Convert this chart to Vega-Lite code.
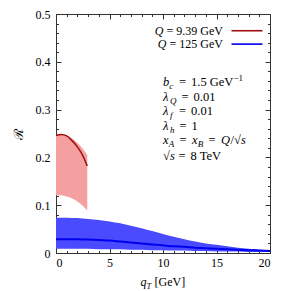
{
"$schema": "https://vega.github.io/schema/vega-lite/v6.json",
"width": 214, "height": 239,
"autosize": "none",
"padding": {"left": 56, "top": 14, "right": 21, "bottom": 38},
"background": "white",
"datasets": {
"blue": [
{"q":0,"lo":0.009,"hi":0.074,"r":0.029},{"q":1,"lo":0.009,"hi":0.074,"r":0.029},{"q":2,"lo":0.009,"hi":0.073,"r":0.029},{"q":3,"lo":0.009,"hi":0.071,"r":0.028},{"q":4,"lo":0.008,"hi":0.069,"r":0.027},{"q":5,"lo":0.008,"hi":0.066,"r":0.026},{"q":6,"lo":0.008,"hi":0.062,"r":0.024},{"q":7,"lo":0.007,"hi":0.057,"r":0.022},{"q":8,"lo":0.007,"hi":0.052,"r":0.020},{"q":9,"lo":0.006,"hi":0.046,"r":0.018},{"q":10,"lo":0.006,"hi":0.040,"r":0.016},{"q":11,"lo":0.005,"hi":0.034,"r":0.014},{"q":12,"lo":0.005,"hi":0.029,"r":0.013},{"q":13,"lo":0.004,"hi":0.024,"r":0.011},{"q":14,"lo":0.004,"hi":0.020,"r":0.010},{"q":15,"lo":0.003,"hi":0.017,"r":0.009},{"q":16,"lo":0.003,"hi":0.014,"r":0.008},{"q":17,"lo":0.003,"hi":0.011,"r":0.007},{"q":18,"lo":0.002,"hi":0.009,"r":0.006},{"q":19,"lo":0.002,"hi":0.007,"r":0.005},{"q":20,"lo":0.002,"hi":0.006,"r":0.004}
],
"red": [
{"q":0,"lo":0.121,"hi":0.247,"r":0.246},{"q":0.5,"lo":0.121,"hi":0.249,"r":0.248},{"q":1,"lo":0.118,"hi":0.246,"r":0.245},{"q":1.5,"lo":0.114,"hi":0.240,"r":0.235},{"q":2,"lo":0.108,"hi":0.230,"r":0.222},{"q":2.5,"lo":0.099,"hi":0.218,"r":0.204},{"q":2.92,"lo":0.089,"hi":0.205,"r":0.182}
]
},
"config": {
"view": {"stroke": "#333", "strokeWidth": 1},
"axis": {"grid": false, "domain": false, "labelFont": "Liberation Serif", "labelFontSize": 12, "labelColor": "#000", "tickColor": "#333", "tickWidth": 1},
"text": {"font": "Liberation Serif", "fontSize": 12.5, "color": "#000", "align": "left", "baseline": "alphabetic"}
},
"resolve": {"axis": {"x": "independent", "y": "independent"}},
"layer": [
{"data": {"name": "red"},
 "mark": {"type": "area", "color": "#f4a0a0", "interpolate": "monotone"},
 "encoding": {
  "x": {"field": "q", "type": "quantitative", "scale": {"domain": [0, 20], "nice": false, "zero": false},
        "axis": {"orient": "bottom", "values": [0,5,10,15,20], "ticks": false, "labelPadding": 4, "format": "~g", "title": null}},
  "y": {"field": "lo", "type": "quantitative", "scale": {"domain": [0, 0.5], "nice": false, "zero": false},
        "axis": {"orient": "left", "values": [0,0.1,0.2,0.3,0.4,0.5], "ticks": false, "labelPadding": 6, "format": "~g", "title": "ℛ", "titleFont": "DejaVu Serif", "titleFontSize": 13, "titleFontWeight": "normal", "titlePadding": 10, "titleColor": "#000"}},
  "y2": {"field": "hi"}
 }},
{"data": {"name": "blue"},
 "mark": {"type": "area", "color": "#4a4aff", "interpolate": "monotone"},
 "encoding": {
  "x": {"field": "q", "type": "quantitative", "scale": {"domain": [0, 20], "nice": false, "zero": false},
        "axis": {"orient": "bottom", "values": [0,5,10,15,20], "labels": false, "tickSize": -5, "title": null}},
  "y": {"field": "lo", "type": "quantitative", "scale": {"domain": [0, 0.5], "nice": false, "zero": false},
        "axis": {"orient": "left", "values": [0,0.1,0.2,0.3,0.4,0.5], "labels": false, "tickSize": -5, "title": null}},
  "y2": {"field": "hi"}
 }},
{"data": {"name": "red"},
 "mark": {"type": "line", "color": "#a01010", "strokeWidth": 1.6, "interpolate": "monotone"},
 "encoding": {
  "x": {"field": "q", "type": "quantitative", "scale": {"domain": [0, 20], "nice": false, "zero": false},
        "axis": {"orient": "bottom", "values": [0,1,2,3,4,5,6,7,8,9,10,11,12,13,14,15,16,17,18,19,20], "labels": false, "tickSize": -2.5, "title": null}},
  "y": {"field": "r", "type": "quantitative", "scale": {"domain": [0, 0.5], "nice": false, "zero": false},
        "axis": {"orient": "left", "values": [0,0.02,0.04,0.06,0.08,0.1,0.12,0.14,0.16,0.18,0.2,0.22,0.24,0.26,0.28,0.3,0.32,0.34,0.36,0.38,0.4,0.42,0.44,0.46,0.48,0.5], "labels": false, "tickSize": -2.5, "title": null}}
 }},
{"data": {"name": "blue"},
 "mark": {"type": "line", "color": "#0000ee", "strokeWidth": 2, "interpolate": "monotone"},
 "encoding": {
  "x": {"field": "q", "type": "quantitative", "scale": {"domain": [0, 20], "nice": false, "zero": false},
        "axis": {"orient": "top", "values": [0,5,10,15,20], "labels": false, "tickSize": -5, "title": null}},
  "y": {"field": "r", "type": "quantitative", "scale": {"domain": [0, 0.5], "nice": false, "zero": false},
        "axis": {"orient": "right", "values": [0,0.1,0.2,0.3,0.4,0.5], "labels": false, "tickSize": -5, "title": null}}
 }},
{"data": {"values": [{}]},
 "mark": {"type": "rule", "color": "#a01010", "strokeWidth": 1.6},
 "encoding": {
  "x": {"datum": 16.4, "type": "quantitative", "scale": {"domain": [0, 20], "nice": false, "zero": false},
        "axis": {"orient": "top", "values": [0,1,2,3,4,5,6,7,8,9,10,11,12,13,14,15,16,17,18,19,20], "labels": false, "tickSize": -2.5, "title": null}},
  "x2": {"datum": 19.3},
  "y": {"datum": 0.465, "type": "quantitative", "scale": {"domain": [0, 0.5], "nice": false, "zero": false},
        "axis": {"orient": "right", "values": [0,0.02,0.04,0.06,0.08,0.1,0.12,0.14,0.16,0.18,0.2,0.22,0.24,0.26,0.28,0.3,0.32,0.34,0.36,0.38,0.4,0.42,0.44,0.46,0.48,0.5], "labels": false, "tickSize": -2.5, "title": null}}
 }},
{"data": {"values": [{}]},
 "mark": {"type": "rule", "color": "#0000ee", "strokeWidth": 1.6},
 "encoding": {
  "x": {"datum": 16.4, "type": "quantitative", "scale": {"domain": [0, 20], "nice": false, "zero": false}, "axis": null},
  "x2": {"datum": 19.3},
  "y": {"datum": 0.437, "type": "quantitative", "scale": {"domain": [0, 0.5], "nice": false, "zero": false}, "axis": null}
 }},
{"data": {"values": [{}]}, "mark": {"type": "text", "align": "right", "fontSize": 12, "text": "= 9.39 GeV"},
 "encoding": {"x": {"datum": 15.6, "type": "quantitative", "scale": {"domain": [0, 20], "nice": false, "zero": false}, "axis": null}, "y": {"datum": 0.457, "type": "quantitative", "scale": {"domain": [0, 0.5], "nice": false, "zero": false}, "axis": null}}},
{"data": {"values": [{}]}, "mark": {"type": "text", "align": "right", "fontSize": 12, "fontStyle": "italic", "dx": -59.4, "text": "Q"},
 "encoding": {"x": {"datum": 15.6, "type": "quantitative", "scale": {"domain": [0, 20], "nice": false, "zero": false}, "axis": null}, "y": {"datum": 0.457, "type": "quantitative", "scale": {"domain": [0, 0.5], "nice": false, "zero": false}, "axis": null}}},
{"data": {"values": [{}]}, "mark": {"type": "text", "align": "right", "fontSize": 12, "text": "= 125 GeV"},
 "encoding": {"x": {"datum": 15.6, "type": "quantitative", "scale": {"domain": [0, 20], "nice": false, "zero": false}, "axis": null}, "y": {"datum": 0.429, "type": "quantitative", "scale": {"domain": [0, 0.5], "nice": false, "zero": false}, "axis": null}}},
{"data": {"values": [{}]}, "mark": {"type": "text", "align": "right", "fontSize": 12, "fontStyle": "italic", "dx": -56.4, "text": "Q"},
 "encoding": {"x": {"datum": 15.6, "type": "quantitative", "scale": {"domain": [0, 20], "nice": false, "zero": false}, "axis": null}, "y": {"datum": 0.429, "type": "quantitative", "scale": {"domain": [0, 0.5], "nice": false, "zero": false}, "axis": null}}},

{"data": {"values": [{}]}, "mark": {"type": "text", "fontStyle": "italic", "text": "b"},
 "encoding": {"x": {"datum": 10, "type": "quantitative", "scale": {"domain": [0, 20], "nice": false, "zero": false}, "axis": null}, "y": {"datum": 0.349, "type": "quantitative", "scale": {"domain": [0, 0.5], "nice": false, "zero": false}, "axis": null}}},
{"data": {"values": [{}]}, "mark": {"type": "text", "fontStyle": "italic", "fontSize": 9, "dx": 6.2, "dy": 3, "text": "c"},
 "encoding": {"x": {"datum": 10, "type": "quantitative", "scale": {"domain": [0, 20], "nice": false, "zero": false}, "axis": null}, "y": {"datum": 0.349, "type": "quantitative", "scale": {"domain": [0, 0.5], "nice": false, "zero": false}, "axis": null}}},
{"data": {"values": [{}]}, "mark": {"type": "text", "dx": 16, "text": "="},
 "encoding": {"x": {"datum": 10, "type": "quantitative", "scale": {"domain": [0, 20], "nice": false, "zero": false}, "axis": null}, "y": {"datum": 0.349, "type": "quantitative", "scale": {"domain": [0, 0.5], "nice": false, "zero": false}, "axis": null}}},
{"data": {"values": [{}]}, "mark": {"type": "text", "dx": 28, "text": "1.5 GeV"},
 "encoding": {"x": {"datum": 10, "type": "quantitative", "scale": {"domain": [0, 20], "nice": false, "zero": false}, "axis": null}, "y": {"datum": 0.349, "type": "quantitative", "scale": {"domain": [0, 0.5], "nice": false, "zero": false}, "axis": null}}},
{"data": {"values": [{}]}, "mark": {"type": "text", "fontSize": 9, "dx": 70.5, "dy": -5.5, "text": "−1"},
 "encoding": {"x": {"datum": 10, "type": "quantitative", "scale": {"domain": [0, 20], "nice": false, "zero": false}, "axis": null}, "y": {"datum": 0.349, "type": "quantitative", "scale": {"domain": [0, 0.5], "nice": false, "zero": false}, "axis": null}}},

{"data": {"values": [{}]}, "mark": {"type": "text", "fontStyle": "italic", "text": "λ"},
 "encoding": {"x": {"datum": 10, "type": "quantitative", "scale": {"domain": [0, 20], "nice": false, "zero": false}, "axis": null}, "y": {"datum": 0.318, "type": "quantitative", "scale": {"domain": [0, 0.5], "nice": false, "zero": false}, "axis": null}}},
{"data": {"values": [{}]}, "mark": {"type": "text", "fontStyle": "italic", "fontSize": 9, "dx": 7, "dy": 3, "text": "Q"},
 "encoding": {"x": {"datum": 10, "type": "quantitative", "scale": {"domain": [0, 20], "nice": false, "zero": false}, "axis": null}, "y": {"datum": 0.318, "type": "quantitative", "scale": {"domain": [0, 0.5], "nice": false, "zero": false}, "axis": null}}},
{"data": {"values": [{}]}, "mark": {"type": "text", "dx": 18.5, "text": "="},
 "encoding": {"x": {"datum": 10, "type": "quantitative", "scale": {"domain": [0, 20], "nice": false, "zero": false}, "axis": null}, "y": {"datum": 0.318, "type": "quantitative", "scale": {"domain": [0, 0.5], "nice": false, "zero": false}, "axis": null}}},
{"data": {"values": [{}]}, "mark": {"type": "text", "dx": 30.5, "text": "0.01"},
 "encoding": {"x": {"datum": 10, "type": "quantitative", "scale": {"domain": [0, 20], "nice": false, "zero": false}, "axis": null}, "y": {"datum": 0.318, "type": "quantitative", "scale": {"domain": [0, 0.5], "nice": false, "zero": false}, "axis": null}}},

{"data": {"values": [{}]}, "mark": {"type": "text", "fontStyle": "italic", "text": "λ"},
 "encoding": {"x": {"datum": 10, "type": "quantitative", "scale": {"domain": [0, 20], "nice": false, "zero": false}, "axis": null}, "y": {"datum": 0.288, "type": "quantitative", "scale": {"domain": [0, 0.5], "nice": false, "zero": false}, "axis": null}}},
{"data": {"values": [{}]}, "mark": {"type": "text", "fontStyle": "italic", "fontSize": 9, "dx": 7, "dy": 3, "text": "f"},
 "encoding": {"x": {"datum": 10, "type": "quantitative", "scale": {"domain": [0, 20], "nice": false, "zero": false}, "axis": null}, "y": {"datum": 0.288, "type": "quantitative", "scale": {"domain": [0, 0.5], "nice": false, "zero": false}, "axis": null}}},
{"data": {"values": [{}]}, "mark": {"type": "text", "dx": 16, "text": "="},
 "encoding": {"x": {"datum": 10, "type": "quantitative", "scale": {"domain": [0, 20], "nice": false, "zero": false}, "axis": null}, "y": {"datum": 0.288, "type": "quantitative", "scale": {"domain": [0, 0.5], "nice": false, "zero": false}, "axis": null}}},
{"data": {"values": [{}]}, "mark": {"type": "text", "dx": 28, "text": "0.01"},
 "encoding": {"x": {"datum": 10, "type": "quantitative", "scale": {"domain": [0, 20], "nice": false, "zero": false}, "axis": null}, "y": {"datum": 0.288, "type": "quantitative", "scale": {"domain": [0, 0.5], "nice": false, "zero": false}, "axis": null}}},

{"data": {"values": [{}]}, "mark": {"type": "text", "fontStyle": "italic", "text": "λ"},
 "encoding": {"x": {"datum": 10, "type": "quantitative", "scale": {"domain": [0, 20], "nice": false, "zero": false}, "axis": null}, "y": {"datum": 0.258, "type": "quantitative", "scale": {"domain": [0, 0.5], "nice": false, "zero": false}, "axis": null}}},
{"data": {"values": [{}]}, "mark": {"type": "text", "fontStyle": "italic", "fontSize": 9, "dx": 7, "dy": 3, "text": "h"},
 "encoding": {"x": {"datum": 10, "type": "quantitative", "scale": {"domain": [0, 20], "nice": false, "zero": false}, "axis": null}, "y": {"datum": 0.258, "type": "quantitative", "scale": {"domain": [0, 0.5], "nice": false, "zero": false}, "axis": null}}},
{"data": {"values": [{}]}, "mark": {"type": "text", "dx": 16.5, "text": "="},
 "encoding": {"x": {"datum": 10, "type": "quantitative", "scale": {"domain": [0, 20], "nice": false, "zero": false}, "axis": null}, "y": {"datum": 0.258, "type": "quantitative", "scale": {"domain": [0, 0.5], "nice": false, "zero": false}, "axis": null}}},
{"data": {"values": [{}]}, "mark": {"type": "text", "dx": 28.5, "text": "1"},
 "encoding": {"x": {"datum": 10, "type": "quantitative", "scale": {"domain": [0, 20], "nice": false, "zero": false}, "axis": null}, "y": {"datum": 0.258, "type": "quantitative", "scale": {"domain": [0, 0.5], "nice": false, "zero": false}, "axis": null}}},

{"data": {"values": [{}]}, "mark": {"type": "text", "fontStyle": "italic", "text": "x"},
 "encoding": {"x": {"datum": 10, "type": "quantitative", "scale": {"domain": [0, 20], "nice": false, "zero": false}, "axis": null}, "y": {"datum": 0.227, "type": "quantitative", "scale": {"domain": [0, 0.5], "nice": false, "zero": false}, "axis": null}}},
{"data": {"values": [{}]}, "mark": {"type": "text", "fontStyle": "italic", "fontSize": 9, "dx": 5.8, "dy": 3, "text": "A"},
 "encoding": {"x": {"datum": 10, "type": "quantitative", "scale": {"domain": [0, 20], "nice": false, "zero": false}, "axis": null}, "y": {"datum": 0.227, "type": "quantitative", "scale": {"domain": [0, 0.5], "nice": false, "zero": false}, "axis": null}}},
{"data": {"values": [{}]}, "mark": {"type": "text", "dx": 16.5, "text": "="},
 "encoding": {"x": {"datum": 10, "type": "quantitative", "scale": {"domain": [0, 20], "nice": false, "zero": false}, "axis": null}, "y": {"datum": 0.227, "type": "quantitative", "scale": {"domain": [0, 0.5], "nice": false, "zero": false}, "axis": null}}},
{"data": {"values": [{}]}, "mark": {"type": "text", "fontStyle": "italic", "dx": 29, "text": "x"},
 "encoding": {"x": {"datum": 10, "type": "quantitative", "scale": {"domain": [0, 20], "nice": false, "zero": false}, "axis": null}, "y": {"datum": 0.227, "type": "quantitative", "scale": {"domain": [0, 0.5], "nice": false, "zero": false}, "axis": null}}},
{"data": {"values": [{}]}, "mark": {"type": "text", "fontStyle": "italic", "fontSize": 9, "dx": 34.8, "dy": 3, "text": "B"},
 "encoding": {"x": {"datum": 10, "type": "quantitative", "scale": {"domain": [0, 20], "nice": false, "zero": false}, "axis": null}, "y": {"datum": 0.227, "type": "quantitative", "scale": {"domain": [0, 0.5], "nice": false, "zero": false}, "axis": null}}},
{"data": {"values": [{}]}, "mark": {"type": "text", "dx": 45.5, "text": "="},
 "encoding": {"x": {"datum": 10, "type": "quantitative", "scale": {"domain": [0, 20], "nice": false, "zero": false}, "axis": null}, "y": {"datum": 0.227, "type": "quantitative", "scale": {"domain": [0, 0.5], "nice": false, "zero": false}, "axis": null}}},
{"data": {"values": [{}]}, "mark": {"type": "text", "fontStyle": "italic", "dx": 58, "text": "Q"},
 "encoding": {"x": {"datum": 10, "type": "quantitative", "scale": {"domain": [0, 20], "nice": false, "zero": false}, "axis": null}, "y": {"datum": 0.227, "type": "quantitative", "scale": {"domain": [0, 0.5], "nice": false, "zero": false}, "axis": null}}},
{"data": {"values": [{}]}, "mark": {"type": "text", "dx": 67.5, "text": "/√"},
 "encoding": {"x": {"datum": 10, "type": "quantitative", "scale": {"domain": [0, 20], "nice": false, "zero": false}, "axis": null}, "y": {"datum": 0.227, "type": "quantitative", "scale": {"domain": [0, 0.5], "nice": false, "zero": false}, "axis": null}}},
{"data": {"values": [{}]}, "mark": {"type": "text", "fontStyle": "italic", "dx": 78, "text": "s"},
 "encoding": {"x": {"datum": 10, "type": "quantitative", "scale": {"domain": [0, 20], "nice": false, "zero": false}, "axis": null}, "y": {"datum": 0.227, "type": "quantitative", "scale": {"domain": [0, 0.5], "nice": false, "zero": false}, "axis": null}}},

{"data": {"values": [{}]}, "mark": {"type": "text", "text": "√"},
 "encoding": {"x": {"datum": 10, "type": "quantitative", "scale": {"domain": [0, 20], "nice": false, "zero": false}, "axis": null}, "y": {"datum": 0.195, "type": "quantitative", "scale": {"domain": [0, 0.5], "nice": false, "zero": false}, "axis": null}}},
{"data": {"values": [{}]}, "mark": {"type": "text", "fontStyle": "italic", "dx": 7, "text": "s"},
 "encoding": {"x": {"datum": 10, "type": "quantitative", "scale": {"domain": [0, 20], "nice": false, "zero": false}, "axis": null}, "y": {"datum": 0.195, "type": "quantitative", "scale": {"domain": [0, 0.5], "nice": false, "zero": false}, "axis": null}}},
{"data": {"values": [{}]}, "mark": {"type": "text", "dx": 15.5, "text": "="},
 "encoding": {"x": {"datum": 10, "type": "quantitative", "scale": {"domain": [0, 20], "nice": false, "zero": false}, "axis": null}, "y": {"datum": 0.195, "type": "quantitative", "scale": {"domain": [0, 0.5], "nice": false, "zero": false}, "axis": null}}},
{"data": {"values": [{}]}, "mark": {"type": "text", "dx": 27.5, "text": "8 TeV"},
 "encoding": {"x": {"datum": 10, "type": "quantitative", "scale": {"domain": [0, 20], "nice": false, "zero": false}, "axis": null}, "y": {"datum": 0.195, "type": "quantitative", "scale": {"domain": [0, 0.5], "nice": false, "zero": false}, "axis": null}}},

{"data": {"values": [{}]}, "mark": {"type": "text", "fontSize": 12, "fontStyle": "italic", "text": "q"},
 "encoding": {"x": {"datum": 7.9, "type": "quantitative", "scale": {"domain": [0, 20], "nice": false, "zero": false}, "axis": null}, "y": {"datum": -0.068, "type": "quantitative", "scale": {"domain": [0, 0.5], "nice": false, "zero": false}, "axis": null}}},
{"data": {"values": [{}]}, "mark": {"type": "text", "fontStyle": "italic", "fontSize": 8.5, "dx": 6, "dy": 3, "text": "T"},
 "encoding": {"x": {"datum": 7.9, "type": "quantitative", "scale": {"domain": [0, 20], "nice": false, "zero": false}, "axis": null}, "y": {"datum": -0.068, "type": "quantitative", "scale": {"domain": [0, 0.5], "nice": false, "zero": false}, "axis": null}}},
{"data": {"values": [{}]}, "mark": {"type": "text", "fontSize": 12, "dx": 14, "text": "[GeV]"},
 "encoding": {"x": {"datum": 7.9, "type": "quantitative", "scale": {"domain": [0, 20], "nice": false, "zero": false}, "axis": null}, "y": {"datum": -0.068, "type": "quantitative", "scale": {"domain": [0, 0.5], "nice": false, "zero": false}, "axis": null}}}
]
}
